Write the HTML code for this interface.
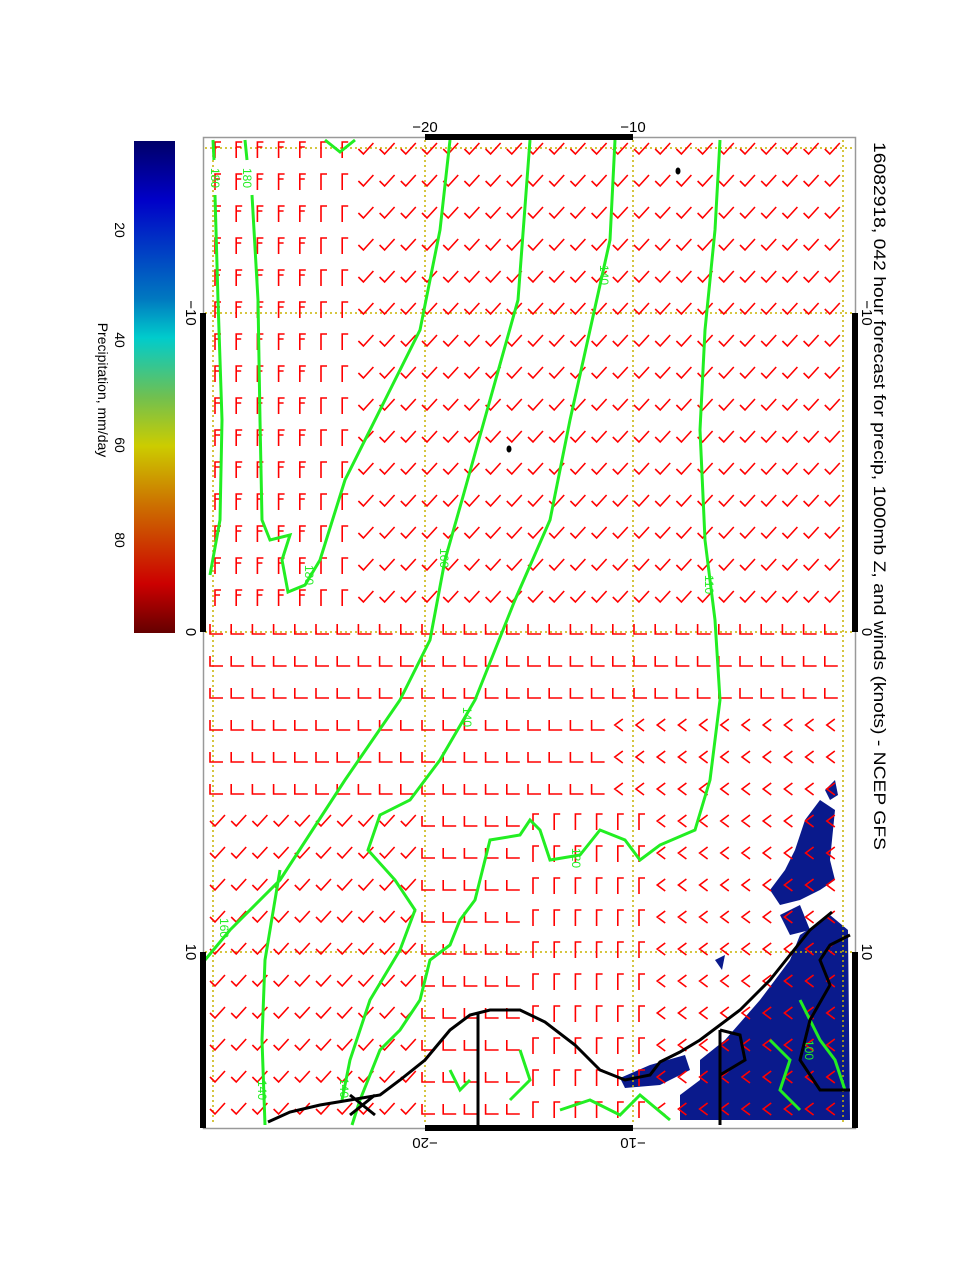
<!DOCTYPE html>
<html><head><meta charset="utf-8">
<style>
html,body{margin:0;padding:0;background:#fff;}
svg{display:block;}
text{font-family:"Liberation Sans",sans-serif;}
</style></head>
<body>
<svg id="s" width="978" height="1265" viewBox="0 0 978 1265" xmlns="http://www.w3.org/2000/svg">
<defs>
<linearGradient id="cb" x1="0" y1="0" x2="0" y2="1">
<stop offset="0" stop-color="#000068"/>
<stop offset="0.12" stop-color="#0000c8"/>
<stop offset="0.32" stop-color="#0078c0"/>
<stop offset="0.40" stop-color="#00cccc"/>
<stop offset="0.52" stop-color="#70c050"/>
<stop offset="0.62" stop-color="#cccc00"/>
<stop offset="0.74" stop-color="#cc7000"/>
<stop offset="0.90" stop-color="#cc0000"/>
<stop offset="1" stop-color="#640000"/>
</linearGradient>
</defs>
<rect x="134" y="141" width="41" height="492" fill="url(#cb)"/>
<g font-size="14" fill="#000">
<text transform="translate(115,230) rotate(90)" text-anchor="middle">20</text>
<text transform="translate(115,340) rotate(90)" text-anchor="middle">40</text>
<text transform="translate(115,445) rotate(90)" text-anchor="middle">60</text>
<text transform="translate(115,540) rotate(90)" text-anchor="middle">80</text>
<text transform="translate(98,390) rotate(90)" text-anchor="middle">Precipitation, mm/day</text>
</g>
<g fill="#0a1a8c">
<path d="M805,820 L820,800 L835,810 L830,860 L835,880 L820,890 L800,900 L780,905 L770,890 L785,870 L795,850 Z"/>
<path d="M825,790 L835,780 L838,795 L830,800 Z"/>
<path d="M780,915 L800,905 L810,930 L790,935 Z"/>
<path d="M800,935 L830,915 L848,930 L850,1120 L680,1120 L680,1095 L700,1080 L700,1060 L725,1040 L760,1000 L790,960 Z"/>
<path d="M620,1078 L650,1065 L685,1055 L690,1070 L660,1085 L625,1088 Z"/>
<path d="M715,960 L725,955 L722,970 Z"/>
</g>
<g stroke="#c8b400" stroke-width="1.5" stroke-dasharray="2,3" fill="none">
<line x1="213" y1="140" x2="213" y2="1125"/>
<line x1="425" y1="140" x2="425" y2="1125"/>
<line x1="633" y1="140" x2="633" y2="1125"/>
<line x1="843" y1="140" x2="843" y2="1125"/>
<line x1="205" y1="313" x2="853" y2="313"/>
<line x1="205" y1="632" x2="853" y2="632"/>
<line x1="205" y1="952" x2="853" y2="952"/>
<line x1="205" y1="148" x2="853" y2="148"/>
</g>
<g id="barbs" stroke="#ff0000" stroke-width="1.6" fill="none"></g>
<g stroke="#22ee22" stroke-width="3" fill="none">
<polyline points="213,140 214,160"/>
<polyline points="215,195 218,300 222,420 220,520 210,575"/>
<polyline points="245,140 247,160"/>
<polyline points="252,195 258,300 260,420 262,520 270,540 290,535 282,560 288,592 305,585 320,560 345,480 385,400 420,330 440,230 450,140"/>
<polyline points="325,140 340,152 355,140"/>
<polyline points="530,140 518,300 490,400 462,500 445,560 430,640 400,700 345,780 280,880 230,930 205,960"/>
<polyline points="615,140 610,240 590,330 570,420 550,520 515,600 475,700 440,760 410,800 380,815 368,850 395,880 415,910 400,950 370,1000 350,1060 342,1100"/>
<polyline points="720,140 715,230 705,330 700,430 705,540 715,620 720,700 710,780 695,830 660,845 640,860 625,840 600,830 580,855 550,860 540,830 530,820 520,835 490,840 475,900 460,920 450,945 430,960 420,1000 400,1030 380,1050 360,1100 352,1125"/>
<polyline points="280,870 265,960 262,1040 265,1125"/>
<polyline points="560,1110 590,1100 620,1115 640,1095 670,1120"/>
<polyline points="800,1000 820,1040 835,1060 845,1090"/>
<polyline points="770,1040 790,1060 780,1090 800,1110"/>
<polyline points="450,1070 460,1090 470,1080"/>
<polyline points="520,1050 530,1080 510,1100"/>
</g>
<g fill="#22ee22" font-size="12">
<text transform="translate(211,168) rotate(90)">180</text>
<text transform="translate(243,168) rotate(90)">180</text>
<text transform="translate(305,565) rotate(90)">180</text>
<text transform="translate(440,548) rotate(90)">160</text>
<text transform="translate(463,707) rotate(90)">140</text>
<text transform="translate(600,265) rotate(90)">140</text>
<text transform="translate(705,575) rotate(90)">110</text>
<text transform="translate(572,848) rotate(90)">120</text>
<text transform="translate(220,918) rotate(90)">160</text>
<text transform="translate(258,1080) rotate(90)">140</text>
<text transform="translate(340,1078) rotate(90)">140</text>
<text transform="translate(805,1040) rotate(90)">100</text>
</g>
<g stroke="#000" stroke-width="3" fill="none">
<polyline points="832,912 810,930 790,955 770,980 760,990 740,1010 720,1025 700,1040 680,1052 660,1062 650,1075 625,1080 600,1070 575,1045 545,1022 520,1010 490,1010 470,1015 450,1030 425,1060 400,1080 380,1095 350,1100 320,1105 290,1112 268,1122"/>
<line x1="478" y1="1012" x2="478" y2="1125"/>
<polyline points="720,1030 720,1125"/>
<polyline points="850,935 830,945 820,960 830,985 810,1020 800,1060 820,1090 850,1090"/>
<polyline points="720,1030 740,1035 745,1060 720,1075"/>
<line x1="350" y1="1095" x2="375" y2="1115"/>
<line x1="350" y1="1115" x2="375" y2="1095"/>
</g>
<ellipse cx="678" cy="171" rx="2.5" ry="3.5" fill="#000"/>
<ellipse cx="509" cy="449" rx="2.5" ry="3.5" fill="#000"/>
<rect x="203.5" y="137.5" width="652" height="991" fill="none" stroke="#999" stroke-width="1.5"/>
<g fill="#000">
<rect x="425" y="134" width="208" height="6"/>
<rect x="425" y="1125" width="208" height="6"/>
<rect x="200" y="313" width="6" height="319"/>
<rect x="200" y="952" width="6" height="176"/>
<rect x="852" y="313" width="6" height="319"/>
<rect x="852" y="952" width="6" height="176"/>
</g>
<g fill="#000" font-size="15">
<text x="425" y="132" text-anchor="middle">−20</text>
<text x="633" y="132" text-anchor="middle">−10</text>
<text transform="translate(425,1138) rotate(180)" text-anchor="middle">−20</text>
<text transform="translate(633,1138) rotate(180)" text-anchor="middle">−10</text>
<text transform="translate(186,313) rotate(90)" text-anchor="middle">−10</text>
<text transform="translate(186,632) rotate(90)" text-anchor="middle">0</text>
<text transform="translate(186,952) rotate(90)" text-anchor="middle">10</text>
<text transform="translate(862,313) rotate(90)" text-anchor="middle">−10</text>
<text transform="translate(862,632) rotate(90)" text-anchor="middle">0</text>
<text transform="translate(862,952) rotate(90)" text-anchor="middle">10</text>
<text transform="translate(874,142) rotate(90)" font-size="17" textLength="708" lengthAdjust="spacingAndGlyphs">16082918, 042 hour forecast for precip, 1000mb Z, and winds (knots) - NCEP GFS</text>
</g>
</svg>
<script>
(function(){
var g=document.getElementById('barbs');var d='';
for(var r=0;r<31;r++){for(var c=0;c<30;c++){
var x=215+c*21.2,y=150+r*32;
var t;
if(y<620){ if(x<320) t='F'; else if(x<345) t='G'; else t='V'; }
else if(y<800){ if(x<600||y<700) t='L'; else t='<'; }
else { if(x<420) t='V'; else if(x<520) t='L'; else if(x<640) t='G'; else t='<'; }
if(y>=800 && x<420 && y<900) t='V';
if(t=='F'){d+='M'+x+','+(y+8)+'v-16h6M'+x+','+(y-3)+'h5';}
else if(t=='G'){d+='M'+x+','+(y+8)+'v-16h6';}
else if(t=='V'){d+='M'+(x-5)+','+(y-1)+'l5,5l10,-11';}
else if(t=='L'){d+='M'+(x-5)+','+(y-6)+'v10h13';}
else {d+='M'+(x+5)+','+(y-7)+'l-8,6l8,6';}
}}
var p=document.createElementNS('http://www.w3.org/2000/svg','path');p.setAttribute('d',d);g.appendChild(p);
})();
</script>
</body></html>
